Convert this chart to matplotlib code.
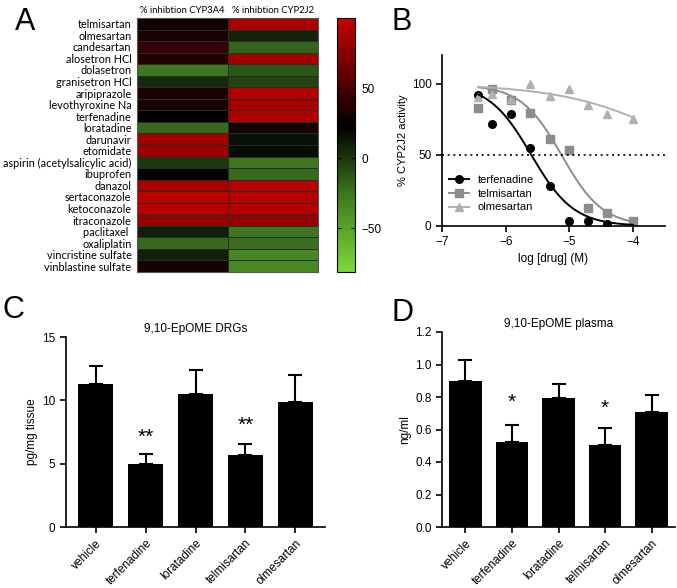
import numpy as np
import matplotlib
matplotlib.use('Agg')
import matplotlib.pyplot as plt
from matplotlib.colors import LinearSegmentedColormap

plt.rcParams['font.family'] = ['Liberation Sans', 'DejaVu Sans']

# panel A data
drugs = ['telmisartan', 'olmesartan', 'candesartan', 'alosetron HCl', 'dolasetron',
         'granisetron HCl', 'aripiprazole', 'levothyroxine Na', 'terfenadine', 'loratadine',
         'darunavir', 'etomidate', 'aspirin (acetylsalicylic acid)', 'ibuprofen', 'danazol',
         'sertaconazole', 'ketoconazole', 'itraconazole', 'paclitaxel ', 'oxaliplatin',
         'vincristine sulfate', 'vinblastine sulfate']
heat_cols = ['% inhibtion CYP3A4', '% inhibtion CYP2J2']
inh_3a4 = [30, 33, 42, 35, -25, 5, 33, 32, 24, -20, 85, 82, 0, 25, 88, 95, 95, 80, 10, -20, 10, 30]
inh_2j2 = [88, 8, -18, 85, -12, -5, 92, 87, 90, 30, 15, 17, -25, -20, 93, 92, 93, 80, -25, -22, -35, -35]

# panel B data
logc = [-6.43, -6.21, -5.92, -5.625, -5.31, -5.01, -4.71, -4.41, -4.0]
terf_act = [91.8, 71.9, 78.9, 54.8, 27.9, 3.3, 3.3, 1.6]
telm_act = [83.1, 96.0, 88.3, 79.6, 60.9, 53.6, 12.9, 9.1, 3.3]
olme_act = [90.6, 92.5, 89.0, 99.5, 91.3, 95.8, 84.8, 78.4, 75.4]
# fitted curve parameters (top, bottom, logIC50, hill)
terf_fit = [100, 0, -5.6, 1.3]
telm_fit = [99, 0, -5.12, 1.35]
olme_fit = [100, 0, -2.9, 0.457]

# panels C and D data
groups = ['vehicle', 'terfenadine', 'loratadine', 'telmisartan', 'olmesartan']
drg_mean = [11.3, 5.0, 10.5, 5.7, 9.9]
drg_err = [1.4, 0.75, 1.9, 0.85, 2.1]
drg_star = ['', '**', '', '**', '']
drg_star_y = [0, 7.1, 0, 8.0, 0]
pl_mean = [0.9, 0.525, 0.795, 0.505, 0.705]
pl_err = [0.13, 0.105, 0.085, 0.105, 0.105]
pl_star = ['', '*', '', '*', '']
pl_star_y = [0, 0.77, 0, 0.73, 0]


def style_axes(ax):
    for s in ['top', 'right']:
        ax.spines[s].set_visible(False)
    for s in ['left', 'bottom']:
        ax.spines[s].set_linewidth(1.2)
    ax.tick_params(width=1.2, length=4, labelsize=8.5, direction='out')


def logistic(x, p):
    top, bottom, x50, h = p
    return bottom + (top - bottom) / (1 + 10 ** ((x - x50) * h))


fig = plt.figure(figsize=(6.77, 5.88), dpi=100)
W, H = 677.0, 588.0


def box(l, t, r, b):
    return [l / W, 1 - b / H, (r - l) / W, (b - t) / H]


# ---- A: heatmap
cmap = LinearSegmentedColormap.from_list(
    'gkr', [(0.0, '#7ad83a'), (0.3, '#3f7a1f'), (0.57, '#000000'), (1.0, '#c80000')])
axA = fig.add_axes(box(137, 18, 318, 272))
data = np.array([inh_3a4, inh_2j2]).T
mesh = axA.pcolormesh(data, cmap=cmap, vmin=-81, vmax=100, edgecolors='#2a2a2a', linewidth=0.5)
axA.set_xlim(0, 2)
axA.set_ylim(len(drugs), 0)
axA.set_yticks(np.arange(len(drugs)) + 0.5)
axA.set_yticklabels(drugs, fontsize=7.8, family=['Lato', 'DejaVu Sans'])
axA.set_xticks([0.5, 1.5])
axA.set_xticklabels(heat_cols, fontsize=6.8, family=['Lato', 'DejaVu Sans'])
axA.xaxis.tick_top()
axA.tick_params(length=0, pad=2)
axA.tick_params(axis='y', pad=4)
for s in axA.spines.values():
    s.set_linewidth(0.8)
    s.set_color('#555555')

cax = fig.add_axes(box(337, 18, 355, 272))
cb = fig.colorbar(mesh, cax=cax, ticks=[50, 0, -50])
cb.outline.set_linewidth(0.8)
cax.tick_params(labelsize=8.5, direction='in', length=3, width=0.8, left=True, pad=5)

fig.text(15 / W, 1 - 30 / H, 'A', fontsize=22)
fig.text(392 / W, 1 - 30 / H, 'B', fontsize=22)
fig.text(2 / W, 1 - 318 / H, 'C', fontsize=22)
fig.text(392 / W, 1 - 321 / H, 'D', fontsize=22)

# ---- B: dose response
axB = fig.add_axes(box(442, 55, 665, 226))
xs = np.linspace(logc[0], logc[-1], 200)
axB.plot(logc[:len(terf_act)], terf_act, 'o', color='black', ms=5.5)
axB.plot(logc, telm_act, 's', color='#8c8c8c', ms=5.5)
axB.plot(logc, olme_act, '^', color='#b0b0b0', ms=5.5)
axB.plot(xs, logistic(xs, terf_fit), color='black', lw=1.4)
axB.plot(xs, logistic(xs, telm_fit), color='#8c8c8c', lw=1.4)
axB.plot(xs, logistic(xs, olme_fit), color='#b0b0b0', lw=1.4)
axB.axhline(50, color='black', ls=(0, (1.2, 2.2)), lw=1.2)
h1, = axB.plot([], [], 'o-', color='black', ms=5.5, lw=1.4)
h2, = axB.plot([], [], 's-', color='#8c8c8c', ms=5.5, lw=1.4)
h3, = axB.plot([], [], '^-', color='#b0b0b0', ms=5.5, lw=1.4)
axB.legend([h1, h2, h3], ['terfenadine', 'telmisartan', 'olmesartan'], loc='lower left',
           bbox_to_anchor=(0.0, 0.04), frameon=False, fontsize=8, handlelength=1.8,
           labelspacing=0.35, borderaxespad=0.2)
axB.set_xlim(-7, -3.5)
axB.set_ylim(0, 120)
axB.set_xticks([-7, -6, -5, -4])
axB.set_yticks([0, 50, 100])
axB.set_xlabel('log [drug] (M)', fontsize=8.5, labelpad=3)
axB.set_ylabel('% CYP2J2 activity', fontsize=8, labelpad=3)
style_axes(axB)

# ---- C and D: bar charts
def bar_panel(rect, means, errs, stars, star_y, ylim, yticks, ylabel, title, xlim, fmt):
    ax = fig.add_axes(rect)
    x = np.arange(len(groups))
    ax.bar(x, means, width=0.7, color='black')
    ax.errorbar(x, means, yerr=[np.zeros(len(errs)), errs], fmt='none', ecolor='black',
                elinewidth=1.5, capsize=5, capthick=1.5)
    for xi, s, y in zip(x, stars, star_y):
        if s:
            ax.text(xi, y, s, ha='center', va='center', fontsize=15)
    ax.set_xlim(*xlim)
    ax.set_ylim(*ylim)
    ax.set_yticks(yticks)
    ax.set_yticklabels([fmt.format(v) for v in yticks])
    ax.set_xticks(x)
    ax.set_xticklabels(groups, rotation=45, ha='right', rotation_mode='anchor')
    ax.set_ylabel(ylabel, fontsize=8.5, labelpad=3)
    ax.text(0.5, 1.04, title, transform=ax.transAxes, ha='center', va='center', fontsize=8.5)
    style_axes(ax)
    return ax


bar_panel(box(66, 337, 325, 527), drg_mean, drg_err, drg_star, drg_star_y, (0, 15),
          [0, 5, 10, 15], 'pg/mg tissue', '9,10-EpOME DRGs', (-0.6, 4.6), '{:g}')
bar_panel(box(442, 332, 675, 527), pl_mean, pl_err, pl_star, pl_star_y, (0, 1.2),
          [0, 0.2, 0.4, 0.6, 0.8, 1.0, 1.2], 'ng/ml', '9,10-EpOME plasma', (-0.5, 4.5), '{:.1f}')

fig.savefig('out.png', dpi=100)
